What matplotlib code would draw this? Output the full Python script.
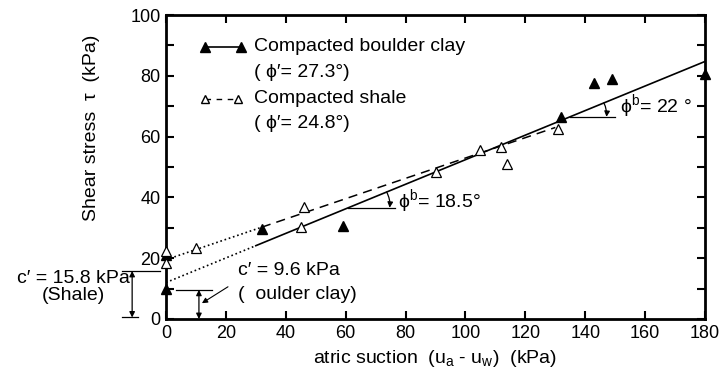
import numpy as np
import matplotlib.pyplot as plt

plt.rcParams['font.family'] = ['Liberation Sans', 'DejaVu Sans']

# measured points: matric suction (kPa), shear stress (kPa)
boulder_x = [0, 0, 32, 59, 132, 143, 149, 180]
boulder_y = [10, 21, 29.5, 30.5, 66.5, 77.5, 79, 80.5]
shale_x = [0, 0, 10, 45, 46, 90, 105, 112, 114, 131]
shale_y = [22.5, 18.5, 23.3, 30.2, 36.7, 48.3, 55.5, 56.5, 51, 62.5]

# failure envelopes: intercept (kPa), phi_b (deg), drawn range
boulder_c, boulder_phib, boulder_range = 12.0, 22.0, (30, 180)
shale_c, shale_phib, shale_range = 19.5, 18.5, (32, 130)

x_ticks = list(range(0, 181, 20))
y_ticks = list(range(0, 101, 20))

fig = plt.figure(figsize=(7.22, 3.76), dpi=100)
ax = fig.add_axes([0.2299, 0.1516, 0.7466, 0.8085])
ax.set_xlim(0, 180)
ax.set_ylim(0, 100)
fs = 14

def envelope(c, phib, x):
    return c + np.tan(np.radians(phib)) * np.asarray(x, dtype=float)

# envelopes: fitted part plus dotted extension back to zero suction
xb = np.array(boulder_range)
ax.plot(xb, envelope(boulder_c, boulder_phib, xb), 'k-', lw=1.2)
ax.plot([0, xb[0]], envelope(boulder_c, boulder_phib, [0, xb[0]]), 'k:', lw=1.2)
xs = np.array(shale_range)
ax.plot(xs, envelope(shale_c, shale_phib, xs), 'k', ls=(0, (6, 4)), lw=1.1)
ax.plot([0, xs[0]], envelope(shale_c, shale_phib, [0, xs[0]]), 'k:', lw=1.2)

ax.plot(boulder_x, boulder_y, 'k^', ms=7, clip_on=False, zorder=5)
ax.plot(shale_x, shale_y, '^', mfc='white', mec='k', mew=0.9, ms=7,
        clip_on=False, zorder=5)

# angle marks for phi_b
def angle_mark(y0, length, r, c, phib, label, tx, ty):
    x0 = (y0 - c) / np.tan(np.radians(phib))
    ax.plot([x0, x0 + length], [y0, y0], 'k-', lw=0.9)
    th = np.radians(phib)
    ax.annotate('', xy=(x0 + r, y0), xytext=(x0 + r * np.cos(th), y0 + r * np.sin(th)),
                arrowprops=dict(arrowstyle='-|>', color='k', lw=0.9,
                                mutation_scale=8,
                                connectionstyle='arc3,rad=-0.15',
                                shrinkA=0, shrinkB=0))
    ax.text(tx, ty, label, fontsize=fs, va='center', ha='left')

angle_mark(36.6, 15.5, 13.8, boulder_c, boulder_phib, 'ϕ$^{\\mathregular{b}}$= 18.5°', 77.5, 38.5)
angle_mark(66.5, 15, 12.2, boulder_c, boulder_phib, 'ϕ$^{\\mathregular{b}}$= 22 °', 151.5, 70)

# legend drawn by hand
ax.plot([13, 25], [89.5, 89.5], 'k-^', ms=7, lw=1.2)
ax.plot([13, 24], [72.4, 72.4], 'k', ls=(0, (4, 4)), lw=1.0, marker='^',
        mfc='white', mec='k', ms=6)
ax.text(29.3, 89.5, 'Compacted boulder clay', fontsize=fs, va='center')
ax.text(29.3, 81.2, '( ϕ′= 27.3°)', fontsize=fs, va='center')
ax.text(29.3, 72.6, 'Compacted shale', fontsize=fs, va='center')
ax.text(29.3, 64.4, '( ϕ′= 24.8°)', fontsize=fs, va='center')

# cohesion intercept dimensions
c_shale, c_boulder = 15.8, 9.6
ax.plot([-14.7, -2], [c_shale, c_shale], 'k-', lw=0.9, clip_on=False)
ax.plot([-14.7, -9.3], [0.5, 0.5], 'k-', lw=0.9, clip_on=False)
ax.annotate('', xy=(-11.3, 0.5), xytext=(-11.3, c_shale),
            arrowprops=dict(arrowstyle='<|-|>', color='k', lw=0.9,
                            mutation_scale=8, shrinkA=0, shrinkB=0),
            annotation_clip=False)
ax.text(-31, 10.5, 'c′ = 15.8 kPa\n(Shale)', fontsize=fs, ha='center',
        va='center', linespacing=0.95, clip_on=False)

ax.plot([3.3, 15.3], [c_boulder, c_boulder], 'k-', lw=0.9)
ax.annotate('', xy=(11, 0), xytext=(11, c_boulder),
            arrowprops=dict(arrowstyle='<|-|>', color='k', lw=0.9,
                            mutation_scale=8, shrinkA=0, shrinkB=0))
ax.annotate('', xy=(12, 5.2), xytext=(20.7, 10.6),
            arrowprops=dict(arrowstyle='-|>', color='k', lw=0.8,
                            mutation_scale=8, shrinkA=0, shrinkB=0))
ax.text(24, 15.8, 'c′ = 9.6 kPa', fontsize=fs, va='center')
ax.text(24, 7.9, '(  oulder clay)', fontsize=fs, va='center')

# axes frame and ticks
ax.set_xticks(x_ticks)
ax.set_yticks(y_ticks)
ax.set_yticks(range(10, 100, 20), minor=True)
ax.tick_params(which='both', direction='in', top=True, right=True,
               labelsize=13, width=1.5, pad=4)
ax.tick_params(which='major', length=6)
ax.tick_params(which='minor', length=6)
ax.tick_params(axis='x', which='minor', top=False, bottom=False)
for s in ax.spines.values():
    s.set_linewidth(2)

ax.set_xlabel('atric suction  (u$_\\mathregular{a}$ - u$_\\mathregular{w}$)  (kPa)',
              fontsize=fs, labelpad=5)
ax.set_ylabel('Shear stress  τ  (kPa)', fontsize=fs)
ax.yaxis.set_label_coords(-0.122, 0.63)

fig.savefig('out.png', dpi=100)
